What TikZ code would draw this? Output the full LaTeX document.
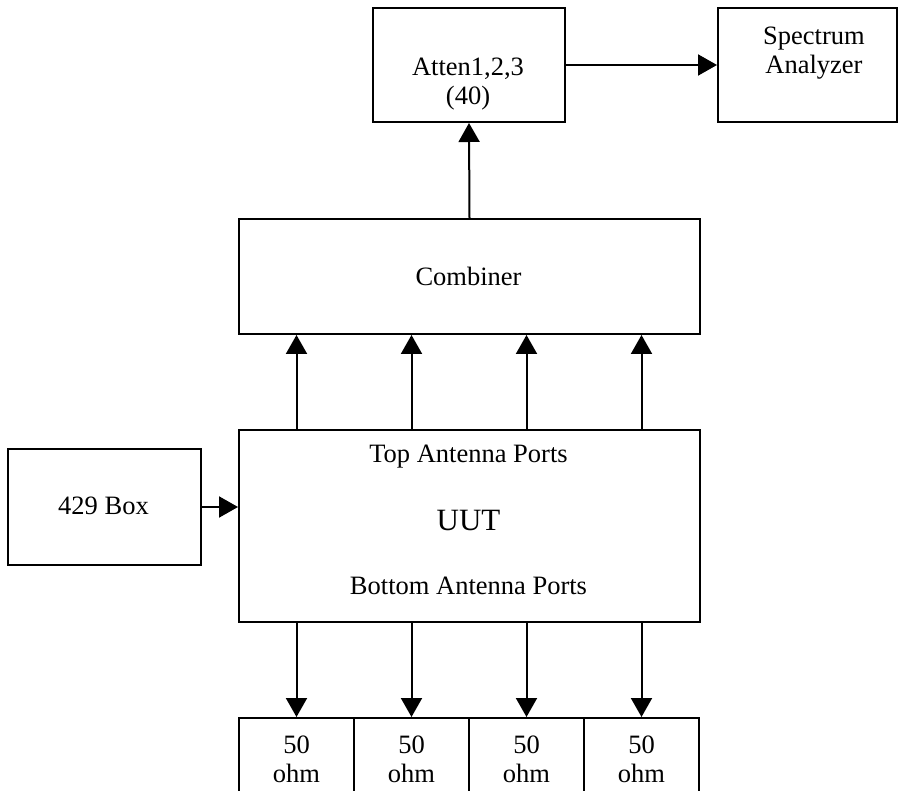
\documentclass[tikz,border=0pt]{standalone}
\usepackage{fontspec}
\setmainfont{Liberation Serif}
\usetikzlibrary{arrows.meta, positioning}

\begin{document}
\begin{tikzpicture}[x=1pt, y=-1pt,
		box/.style={draw, line width=2pt, inner sep=0pt, anchor=north west},
		wire/.style={line width=2pt, -{Triangle[length=19pt, width=21pt]}},
		txt/.style={font=\fontsize{26.5}{29}\selectfont, align=center, inner sep=0pt}]
	\useasboundingbox (0,0) rectangle (898,791);

	\node[box, minimum width=192pt, minimum height=114pt] (atten) at (372,7) {};
	\node[box, minimum width=179pt, minimum height=114pt] (sa) at (717,7) {};
	\node[box, minimum width=461pt, minimum height=115pt] (comb) at (238,218) {};
	\node[box, minimum width=461pt, minimum height=192pt] (uut) at (238,429) {};
	\node[box, minimum width=193pt, minimum height=116pt] (src) at (7,448) {};
	\foreach \i/\x in {1/238, 2/353, 3/468, 4/583}
		\node[box, minimum width=115pt, minimum height=100pt] (ohm\i) at (\x,717) {};

	\node[txt] (attentxt) at (468,84) {Atten1,2,3\\(40)};
	\node[txt] (satxt) at (814,53) {Spectrum\\Analyzer};
	\node[txt, anchor=base] (combtxt) at (468.5,286) {Combiner};
	\node[txt, anchor=base] (toptxt) at (468.5,463) {Top Antenna Ports};
	\node[txt, anchor=base, font=\fontsize{31}{36}\selectfont] (uuttxt) at (468.5,531) {UUT};
	\node[txt, anchor=base] (bottxt) at (468.5,595) {Bottom Antenna Ports};
	\node[txt, anchor=base] (srctxt) at (103.5,515) {429 Box};
	\foreach \i in {1,...,4}
		\node[txt] (ohmtxt\i) at ([yshift=-42pt]ohm\i.north) {50\\ohm};

	\draw[wire] (comb.north) -- (atten.south);
	\draw[wire] (atten.east) -- (atten.east -| sa.west);
	\draw[wire] (src.east) -- (src.east -| uut.west);
	\foreach \i in {1,...,4} {
		\draw[wire] (ohm\i |- uut.north) -- (ohm\i |- comb.south);
		\draw[wire] (ohm\i |- uut.south) -- (ohm\i.north);
	}
\end{tikzpicture}
\end{document}
